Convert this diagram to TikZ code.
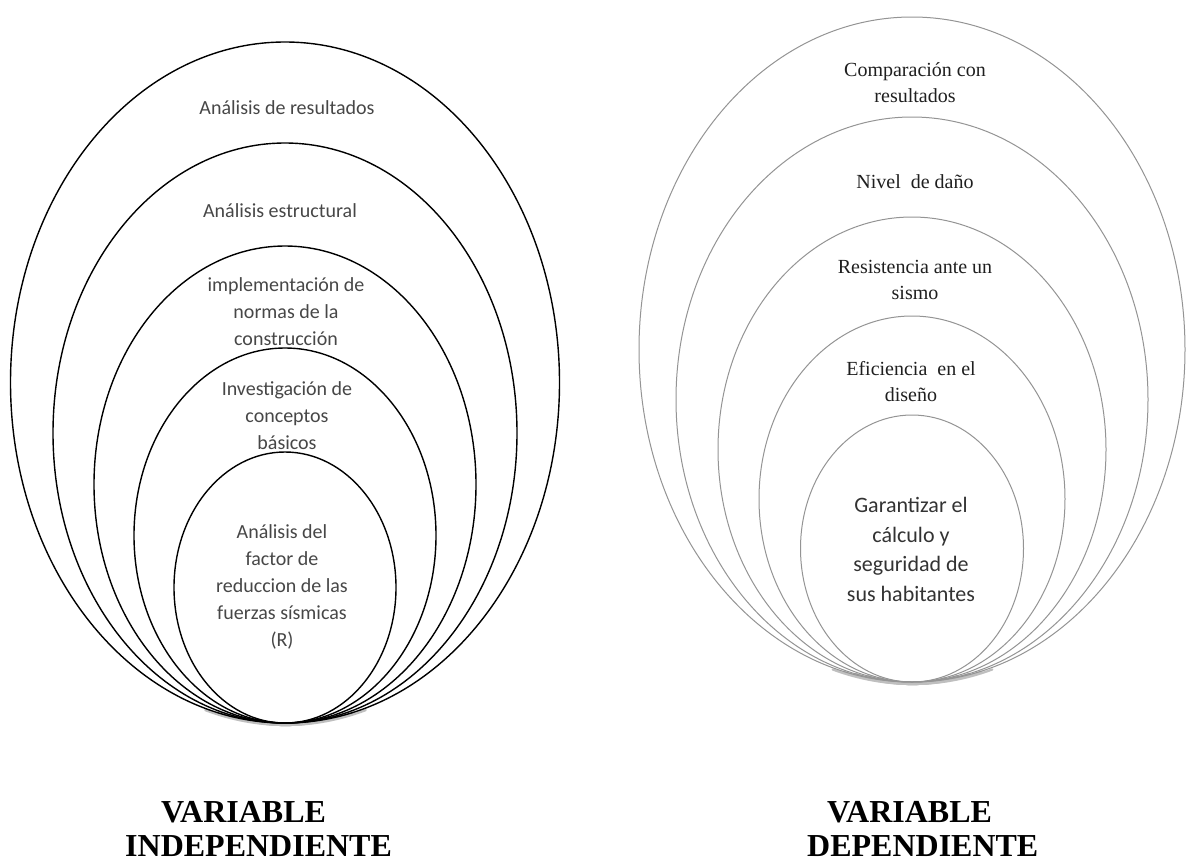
\documentclass[tikz,border=0pt]{standalone}
\usepackage{fontspec}
\setmainfont{Liberation Serif}
\newfontfamily\carlito{Carlito}
\begin{document}
\begin{tikzpicture}[x=1pt,y=-1pt,
  ringL/.style={draw=black,line width=1.4pt},
  ringR/.style={draw=black!42,line width=1pt},
  ringshadow/.style={draw=black!25,line width=2.2pt,line cap=round},
  sanslbl/.style={font=\carlito\fontsize{20}{27}\selectfont,text=black!72,align=center,inner sep=0pt},
  garlbl/.style={font=\carlito\fontsize{22}{29.5}\selectfont,text=black!80,align=center,inner sep=0pt},
  seriflbl/.style={font=\fontsize{20}{26}\selectfont,text=black!88,align=center,inner sep=0pt},
  varlbl/.style={font=\bfseries\fontsize{32}{34}\selectfont,align=left,inner sep=0pt,anchor=north west}]
\useasboundingbox[fill=white] (0,0) rectangle (1187,863);

% soft shadow along the bottom arcs, where the rings converge
\foreach \cx/\cy/\rx/\ry in {285/382.5/274.5/340.5,285/433/232/290,285/484.5/191/238.5,285/535.5/151/187.5,285/587.5/111/135.5,
                             912/349.5/273/332.5,912/399.5/236/282.5,912/449.5/194/232.5,912/499/153/183,912/548.5/111.5/133.5}
  \draw[ringshadow,shift={(0.5,2)}] (\cx,\cy) ++(253:\rx pt and \ry pt)
        arc[start angle=253,end angle=287,x radius=\rx pt,y radius=\ry pt];

% independent variable: nested rings touching at the bottom
\draw[ringL] (285,382.5) ellipse [x radius=274.5pt, y radius=340.5pt];
\draw[ringL] (285,433)   ellipse [x radius=232pt,   y radius=290pt];
\draw[ringL] (285,484.5) ellipse [x radius=191pt,   y radius=238.5pt];
\draw[ringL] (285,535.5) ellipse [x radius=151pt,   y radius=187.5pt];
\draw[ringL] (285,587.5) ellipse [x radius=111pt,   y radius=135.5pt];

% dependent variable: nested rings touching at the bottom
\draw[ringR] (912,349.5) ellipse [x radius=273pt,   y radius=332.5pt];
\draw[ringR] (912,399.5) ellipse [x radius=236pt,   y radius=282.5pt];
\draw[ringR] (912,449.5) ellipse [x radius=194pt,   y radius=232.5pt];
\draw[ringR] (912,499)   ellipse [x radius=153pt,   y radius=183pt];
\draw[ringR] (912,548.5) ellipse [x radius=111.5pt, y radius=133.5pt];

% ring labels, left
\node[sanslbl] (l1) at (287,108) {Análisis de resultados};
\node[sanslbl] (l2) at (280,211) {Análisis estructural};
\node[sanslbl] (l3) at (286,311.5) {implementación de\\normas de la\\construcción};
\node[sanslbl] (l4) at (287,415.5) {Investigación de\\conceptos\\básicos};
\node[sanslbl] (l5) at (282,587) {Análisis del\\factor de\\reduccion de las\\fuerzas sísmicas\\(R)};

% ring labels, right
\node[seriflbl] (r1) at (915,82.5) {Comparación con\\resultados};
\node[seriflbl] (r2) at (915,182) {Nivel\ \ de daño};
\node[seriflbl] (r3) at (915,280) {Resistencia ante un\\sismo};
\node[seriflbl] (r4) at (911,381.5) {Eficiencia\ \ en el\\diseño};
\node[garlbl]   (r5) at (911,549.5) {Garantizar el\\cálculo y\\seguridad de\\sus habitantes};

% captions
\node[varlbl] (capL) at (125,801) {\hspace*{36pt}VARIABLE\\INDEPENDIENTE};
\node[varlbl] (capR) at (807,801) {\hspace*{20pt}VARIABLE\\DEPENDIENTE};
\end{tikzpicture}
\end{document}
